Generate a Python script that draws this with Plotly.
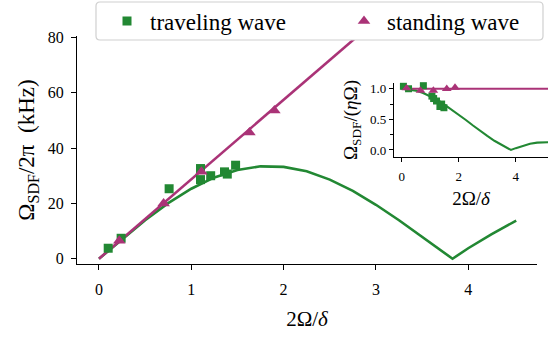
import plotly.graph_objects as go

# ---------------- data ----------------
# main panel: theory curves
theory_x = [0, 0.25, 0.5, 0.75, 1.0, 1.25, 1.5, 1.75, 2.0, 2.25, 2.5, 2.75,
            3.0, 3.25, 3.5, 3.75, 3.83, 4.0, 4.25, 4.52]
traveling_theory_y = [0, 7.1, 13.9, 20.1, 25.3, 29.4, 32.1, 33.4, 33.2, 31.6,
                      28.6, 24.5, 19.5, 13.9, 7.9, 1.9, 0.0, 3.8, 8.8, 13.8]
standing_line_x = [0, 2.8]
standing_line_y = [0, 80.4]

# main panel: measured points
traveling_x = [0.10, 0.24, 0.76, 1.10, 1.10, 1.21, 1.36, 1.39, 1.48]
traveling_y = [3.8, 7.4, 25.3, 32.6, 28.6, 30.0, 31.4, 30.6, 33.8]
standing_x = [0.22, 0.70, 1.11, 1.63, 1.90]
standing_y = [6.5, 20.0, 31.4, 45.6, 53.6]

# inset: normalised
inset_theory_x = [0, 0.25, 0.5, 0.75, 1.0, 1.25, 1.5, 1.75, 2.0, 2.25, 2.5,
                  2.75, 3.0, 3.25, 3.5, 3.75, 3.83, 4.0, 4.25, 4.5, 4.75, 5.0, 5.3]
inset_traveling_theory = [1.0, 0.99, 0.97, 0.93, 0.88, 0.82, 0.74, 0.66, 0.58,
                          0.49, 0.40, 0.31, 0.23, 0.15, 0.08, 0.02, 0.0, 0.03,
                          0.07, 0.10, 0.12, 0.13, 0.13]
inset_standing_line_x = [0, 5.3]
inset_standing_line_y = [1.0, 1.0]
inset_traveling_x = [0.06, 0.24, 0.76, 1.06, 1.12, 1.22, 1.34, 1.40, 1.48]
inset_traveling_y = [1.04, 1.00, 1.05, 0.88, 0.84, 0.80, 0.71, 0.75, 0.69]
inset_standing_x = [0.17, 0.66, 1.11, 1.58, 1.87]
inset_standing_y = [1.01, 0.97, 0.97, 1.00, 1.02]

main_xticks = [0, 1, 2, 3, 4]
main_yticks = [0, 20, 40, 60, 80]
inset_xticks = [0, 2, 4]
inset_yticks = [0.0, 0.5, 1.0]
inset_yticktext = ["0.0", "0.5", "1.0"]
legend_names = ["traveling wave", "standing wave"]

GREEN = "#228833"
PURPLE = "#AA3377"
FONT = "Liberation Serif"

FIG_W, FIG_H = 548, 337
M_L, M_R, M_T, M_B = 77, 0, 36, 73
PW = FIG_W - M_L - M_R
PH = FIG_H - M_T - M_B


def px_x(p):  # figure pixel -> paper x
    return (p - M_L) / PW


def px_y(p):  # figure pixel -> paper y
    return (FIG_H - M_B - p) / PH


fig = go.Figure()

# main panel
fig.add_trace(go.Scatter(x=theory_x, y=traveling_theory_y, mode="lines",
                         line=dict(color=GREEN, width=2.6), showlegend=False,
                         xaxis="x", yaxis="y"))
fig.add_trace(go.Scatter(x=standing_line_x, y=standing_line_y, mode="lines",
                         line=dict(color=PURPLE, width=2.6), showlegend=False,
                         xaxis="x", yaxis="y"))
fig.add_trace(go.Scatter(x=traveling_x, y=traveling_y, mode="markers",
                         name=legend_names[0], legend="legend",
                         marker=dict(symbol="square", size=9, color=GREEN),
                         xaxis="x", yaxis="y", cliponaxis=False))
fig.add_trace(go.Scatter(x=standing_x, y=standing_y, mode="markers",
                         name=legend_names[1], legend="legend2",
                         marker=dict(symbol="triangle-up", size=11, color=PURPLE),
                         xaxis="x", yaxis="y", cliponaxis=False))

# inset
fig.add_trace(go.Scatter(x=inset_theory_x, y=inset_traveling_theory, mode="lines",
                         line=dict(color=GREEN, width=2.1), showlegend=False,
                         xaxis="x2", yaxis="y2"))
fig.add_trace(go.Scatter(x=inset_standing_line_x, y=inset_standing_line_y,
                         mode="lines", line=dict(color=PURPLE, width=2.1),
                         showlegend=False, xaxis="x2", yaxis="y2"))
fig.add_trace(go.Scatter(x=inset_traveling_x, y=inset_traveling_y, mode="markers",
                         marker=dict(symbol="square", size=7, color=GREEN),
                         showlegend=False, xaxis="x2", yaxis="y2", cliponaxis=False))
fig.add_trace(go.Scatter(x=inset_standing_x, y=inset_standing_y, mode="markers",
                         marker=dict(symbol="triangle-up", size=8.5, color=PURPLE),
                         showlegend=False, xaxis="x2", yaxis="y2", cliponaxis=False))

axis_common = dict(showline=True, linecolor="black", linewidth=1.3,
                   ticks="outside", tickcolor="black", tickwidth=1.3,
                   showgrid=False, zeroline=False, mirror=False)

# legend frame (rounded rectangle) in paper coords
bx0, bx1, by0, by1, r = 96, 543, 2, 40, 4
path = (f"M {px_x(bx0 + r)} {px_y(by0)} L {px_x(bx1 - r)} {px_y(by0)} "
        f"Q {px_x(bx1)} {px_y(by0)} {px_x(bx1)} {px_y(by0 + r)} "
        f"L {px_x(bx1)} {px_y(by1 - r)} "
        f"Q {px_x(bx1)} {px_y(by1)} {px_x(bx1 - r)} {px_y(by1)} "
        f"L {px_x(bx0 + r)} {px_y(by1)} "
        f"Q {px_x(bx0)} {px_y(by1)} {px_x(bx0)} {px_y(by1 - r)} "
        f"L {px_x(bx0)} {px_y(by0 + r)} "
        f"Q {px_x(bx0)} {px_y(by0)} {px_x(bx0 + r)} {px_y(by0)} Z")

legend_common = dict(orientation="h", xanchor="left", yanchor="middle",
                     xref="container", yref="container",
                     bgcolor="rgba(0,0,0,0)", borderwidth=0,
                     font=dict(family=FONT, size=23, color="black"),
                     itemwidth=36)

fig.update_layout(
    width=FIG_W, height=FIG_H,
    margin=dict(l=M_L, r=M_R, t=M_T, b=M_B, autoexpand=False),
    paper_bgcolor="white", plot_bgcolor="rgba(0,0,0,0)",
    font=dict(family=FONT, color="black", size=16),
    xaxis=dict(domain=[0, px_x(537)], range=[-0.238, 4.745],
               tickvals=main_xticks, ticklen=5, ticklabelstandoff=6,
               tickfont=dict(family=FONT, size=16),
               title=dict(text="2Ω/<i>δ</i>", font=dict(family=FONT, size=21),
                          standoff=13),
               **axis_common),
    yaxis=dict(domain=[0, 1], range=[-1.9, 80.5], tickvals=main_yticks,
               ticklen=5, ticklabelstandoff=4, tickfont=dict(family=FONT, size=16),
               title=dict(text="Ω<sub>SDF</sub>/2π  (kHz)",
                          font=dict(family=FONT, size=23), standoff=6),
               **axis_common),
    xaxis2=dict(domain=[px_x(394), 1.0], range=[-0.27, 5.13],
                anchor="y2", tickvals=inset_xticks, ticklen=4,
                ticklabelstandoff=3,
                tickfont=dict(family=FONT, size=13),
                title=dict(text="2Ω/<i>δ</i>", font=dict(family=FONT, size=19),
                           standoff=8),
                **axis_common),
    yaxis2=dict(domain=[px_y(157), px_y(83)], range=[-0.115, 1.094],
                anchor="x2", tickvals=inset_yticks, ticktext=inset_yticktext,
                ticklen=4, tickfont=dict(family=FONT, size=13),
                minor=dict(ticks="outside", ticklen=2.5, tickwidth=1,
                           tickcolor="black", dtick=0.25, tick0=0),
                title=dict(text="Ω<sub>SDF</sub>/(<i>η</i>Ω)",
                           font=dict(family=FONT, size=19), standoff=7),
                **axis_common),
    legend=dict(x=(126 - 22) / FIG_W, y=1 - 21 / FIG_H, **legend_common),
    legend2=dict(x=(363 - 22) / FIG_W, y=1 - 21 / FIG_H, **legend_common),
    shapes=[dict(type="path", path=path, xref="paper", yref="paper",
                 fillcolor="white", line=dict(color="#d0d0d0", width=1.2),
                 layer="above")],
)

fig.write_html("out.html",
               config={"displayModeBar": False},
               post_script="document.body.style.margin='0';"
                           "document.body.style.overflow='hidden';")
